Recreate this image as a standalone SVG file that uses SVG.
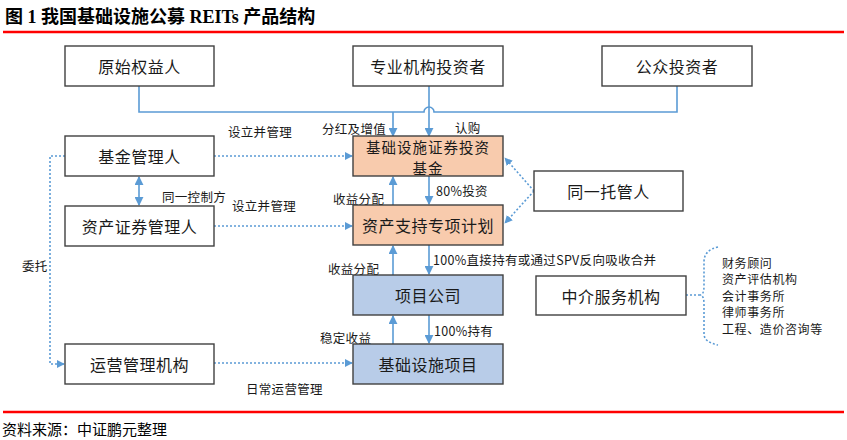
<svg xmlns="http://www.w3.org/2000/svg" width="847" height="440" viewBox="0 0 847 440">
<style>
.box{fill:#fff;stroke:#404040;stroke-width:1.4}
.or{fill:#F8CBAD}
.bl{fill:#B8CCE8}
.t{font-family:"Noto Sans CJK SC","Noto Sans",sans-serif;font-size:16px;fill:#1a1a1a;text-anchor:middle;dominant-baseline:central;letter-spacing:0.5px}
.l{font-family:"Noto Sans CJK SC","Noto Sans",sans-serif;font-size:12.5px;fill:#1a1a1a;dominant-baseline:central;letter-spacing:0.3px}
.li{font-family:"Noto Sans CJK SC","Noto Sans",sans-serif;font-size:12px;fill:#1a1a1a;dominant-baseline:central;letter-spacing:0.6px}
.s{fill:none;stroke:#5B9BD5;stroke-width:1.6}
.d{fill:none;stroke:#5B9BD5;stroke-width:1.6;stroke-dasharray:2 2}
</style>
<defs>
<marker id="a" viewBox="0 0 10 10" refX="9" refY="5" markerWidth="9" markerHeight="9" markerUnits="userSpaceOnUse" orient="auto-start-reverse"><path d="M0 0L10 5L0 10Z" fill="#5B9BD5"/></marker>
<marker id="ad" viewBox="0 0 10 10" refX="9" refY="5" markerWidth="8" markerHeight="8" markerUnits="userSpaceOnUse" orient="auto"><path d="M0 0L10 5L0 10Z" fill="#5B9BD5"/></marker>
</defs>
<rect width="847" height="440" fill="#fff"/>
<text x="5" y="17" style="font-family:'Liberation Serif','Noto Sans CJK SC',serif;font-size:18px;font-weight:bold;dominant-baseline:central" fill="#000">图 1 我国基础设施公募 REITs 产品结构</text>
<line x1="3" y1="32" x2="844" y2="32" stroke="#FF0000" stroke-width="2.5"/>
<line x1="3" y1="412" x2="844" y2="412" stroke="#FF0000" stroke-width="2.5"/>
<text x="2" y="428" style="font-family:'Noto Sans CJK SC',sans-serif;font-size:15px;dominant-baseline:central" fill="#000">资料来源：中证鹏元整理</text>

<g id="connectors">
<path class="s" d="M139 86V112H424A5 5 0 0 1 434 112H677V86"/>
<path class="s" d="M393 112V136" marker-end="url(#a)"/>
<path class="s" d="M429 86V136" marker-end="url(#a)"/>
<path class="s" d="M429 176V204" marker-end="url(#a)"/>
<path class="s" d="M393 205V177" marker-end="url(#a)"/>
<path class="s" d="M429 245V274" marker-end="url(#a)"/>
<path class="s" d="M393 275V246" marker-end="url(#a)"/>
<path class="s" d="M429 315V343" marker-end="url(#a)"/>
<path class="s" d="M393 344V316" marker-end="url(#a)"/>
<path class="s" d="M139 177V205" marker-start="url(#a)" marker-end="url(#a)"/>
<path class="d" d="M214 156H352" marker-end="url(#ad)"/>
<path class="d" d="M214 226H352" marker-end="url(#ad)"/>
<path class="d" d="M214 363H352" marker-end="url(#ad)"/>
<path class="d" d="M65 156H50V364H64" marker-end="url(#ad)"/>
<path class="d" d="M534 191L505 158" marker-end="url(#ad)"/>
<path class="d" d="M534 191L505 223" marker-end="url(#ad)"/>
<path class="d" d="M686 295H700"/>
<path class="d" d="M718 247Q704 250 704 262V286Q704 295 700 295Q704 295 704 304V334Q704 342 718 345"/>
<text class="l" x="228" y="131">设立并管理</text>
<text class="l" x="232" y="205">设立并管理</text>
<text class="l" x="246" y="388">日常运营管理</text>
<text class="l" x="22" y="265">委托</text>
<text class="l" x="162" y="196">同一控制方</text>
<text class="l" x="322" y="128">分红及增值</text>
<text class="l" x="455" y="127">认购</text>
<text class="l" x="436" y="190">80%投资</text>
<text class="l" x="333" y="198">收益分配</text>
<text class="l" x="433" y="259">100%直接持有或通过SPV反向吸收合并</text>
<text class="l" x="328" y="268">收益分配</text>
<text class="l" x="434" y="330">100%持有</text>
<text class="l" x="320" y="337">稳定收益</text>
</g>

<g id="n1"><rect class="box" x="65" y="46" width="149" height="40"/><text class="t" x="139.5" y="66">原始权益人</text></g>
<g id="n2"><rect class="box" x="353" y="46" width="150" height="40"/><text class="t" x="428" y="66">专业机构投资者</text></g>
<g id="n3"><rect class="box" x="602" y="46" width="150" height="40"/><text class="t" x="677" y="66">公众投资者</text></g>
<g id="n4"><rect class="box" x="65" y="136" width="149" height="40"/><text class="t" x="139.5" y="156">基金管理人</text></g>
<g id="n5"><rect class="box" x="65" y="206" width="149" height="40"/><text class="t" x="139.5" y="226">资产证券管理人</text></g>
<g id="n6"><rect class="box" x="65" y="344" width="149" height="40"/><text class="t" x="139.5" y="364">运营管理机构</text></g>
<g id="n7"><rect class="box or" x="353" y="136" width="150" height="40"/><text class="t" style="font-size:14.5px;letter-spacing:1px"><tspan x="428" y="145.5">基础设施证券投资</tspan><tspan x="428" y="166.5">基金</tspan></text></g>
<g id="n8"><rect class="box or" x="353" y="205" width="150" height="40"/><text class="t" x="428" y="225">资产支持专项计划</text></g>
<g id="n9"><rect class="box bl" x="353" y="275" width="150" height="40"/><text class="t" x="428" y="295">项目公司</text></g>
<g id="n10"><rect class="box bl" x="353" y="344" width="150" height="40"/><text class="t" x="428" y="364">基础设施项目</text></g>
<g id="n11"><rect class="box" x="534" y="171" width="149" height="40"/><text class="t" x="608.5" y="191">同一托管人</text></g>
<g id="n12"><rect class="box" x="536" y="276" width="150" height="39"/><text class="t" x="611" y="295.5">中介服务机构</text></g>
<g id="n13">
<text class="li" x="722" y="262">财务顾问</text>
<text class="li" x="722" y="278.5">资产评估机构</text>
<text class="li" x="722" y="295">会计事务所</text>
<text class="li" x="722" y="311.5">律师事务所</text>
<text class="li" x="722" y="328">工程、造价咨询等</text>
</g>
</svg>
